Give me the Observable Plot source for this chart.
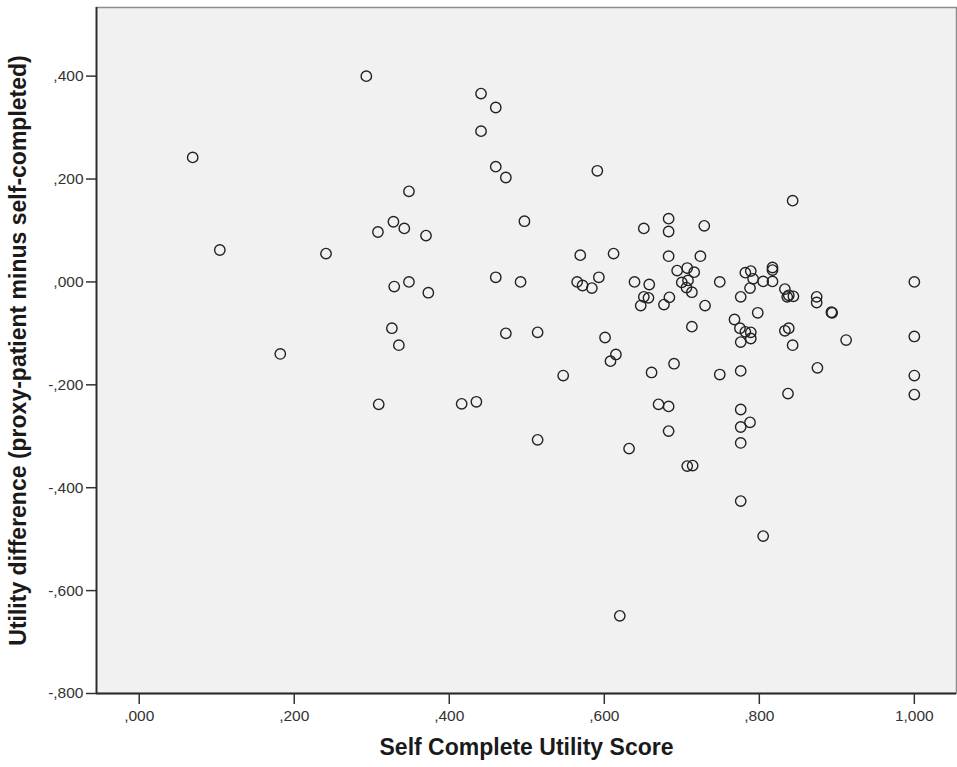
<!DOCTYPE html>
<html><head><meta charset="utf-8">
<script src="https://cdn.jsdelivr.net/npm/d3@7"></script>
<script src="https://cdn.jsdelivr.net/npm/@observablehq/plot@0.6"></script>
<style>
body{margin:0;background:#fff;}
</style></head><body><div id="chart"></div>
<script>
const selfScore = [
 0.069,0.104,0.241,0.182,0.293,0.348,0.328,0.342,0.308,0.370,
 0.348,0.329,0.373,0.326,0.335,0.309,0.416,0.435,0.441,0.460,
 0.441,0.460,0.473,0.497,0.460,0.492,0.473,0.514,0.591,0.843,
 0.683,0.683,0.651,0.729,0.569,0.612,0.683,0.724,0.565,0.572,
 0.584,0.593,0.639,0.658,0.651,0.657,0.647,0.677,0.684,0.694,
 0.707,0.716,0.700,0.708,0.706,0.713,0.730,0.713,0.749,0.782,
 0.789,0.792,0.805,0.817,0.817,0.817,0.788,0.776,0.798,0.833,
 0.838,0.844,0.836,0.874,0.874,0.893,0.894,1.000,0.768,0.775,
 0.782,0.789,0.789,0.776,0.833,0.838,0.843,0.912,1.000,0.601,
 0.615,0.608,0.690,0.547,0.661,0.749,0.776,0.875,1.000,0.837,
 1.000,0.670,0.683,0.776,0.776,0.788,0.683,0.514,0.632,0.776,
 0.707,0.714,0.776,0.805,0.620
];
const utilityDiff = [
 0.242,0.062,0.055,-0.140,0.400,0.176,0.117,0.104,0.097,0.090,
 0.000,-0.009,-0.021,-0.090,-0.123,-0.238,-0.237,-0.233,0.366,0.339,
 0.293,0.224,0.203,0.118,0.009,0.000,-0.100,-0.098,0.216,0.158,
 0.123,0.098,0.104,0.109,0.052,0.055,0.050,0.050,0.000,-0.007,
 -0.012,0.009,0.000,-0.005,-0.029,-0.031,-0.046,-0.044,-0.030,0.022,
 0.027,0.019,-0.001,0.003,-0.011,-0.020,-0.046,-0.087,0.000,0.018,
 0.021,0.006,0.001,0.001,0.028,0.023,-0.012,-0.029,-0.060,-0.014,
 -0.026,-0.028,-0.029,-0.029,-0.040,-0.059,-0.060,0.000,-0.073,-0.090,
 -0.097,-0.098,-0.110,-0.117,-0.095,-0.090,-0.123,-0.113,-0.106,-0.108,
 -0.141,-0.154,-0.159,-0.182,-0.176,-0.180,-0.173,-0.167,-0.182,-0.217,
 -0.219,-0.238,-0.242,-0.248,-0.282,-0.273,-0.290,-0.307,-0.324,-0.313,
 -0.358,-0.357,-0.426,-0.494,-0.649
];
const xTicks = [0, 0.2, 0.4, 0.6, 0.8, 1.0];
const yTicks = [-0.8, -0.6, -0.4, -0.2, 0, 0.2, 0.4];
const xTitle = "Self Complete Utility Score";
const yTitle = "Utility difference (proxy-patient minus self-completed)";

const xDomain = [-0.0551, 1.0544];
const yDomain = [-0.8, 0.5334];
const fmt = v => d3.format(".3f")(v).replace(/[\u2212]/g, "-").replace(/^(-?)0\./, "$1.").replace(".", ",");

const data = selfScore.map((x, i) => ({x, y: utilityDiff[i]}));

const chart = Plot.plot({
  width: 957, height: 767,
  marginLeft: 96, marginRight: 1, marginTop: 7, marginBottom: 74,
  style: {fontFamily: "'Liberation Sans', Arial, sans-serif", background: "#fff"},
  x: {domain: xDomain},
  y: {domain: yDomain},
  marks: [
    Plot.frame({fill: "#f0f1f0", stroke: "#8c8c8c", strokeWidth: 1.5}),
    Plot.ruleX([xDomain[0]], {stroke: "#2b2b2b", strokeWidth: 1.8}),
    Plot.ruleY([yDomain[0]], {stroke: "#2b2b2b", strokeWidth: 1.8}),
    Plot.axisX({ticks: xTicks, tickFormat: fmt, tickSize: 11, tickPadding: 5, fontSize: 15.5, color: "#333", strokeWidth: 1.5, label: null}),
    Plot.axisY({ticks: yTicks, tickFormat: fmt, tickSize: 10, tickPadding: 3, fontSize: 15.5, color: "#333", strokeWidth: 1.5, label: null}),
    Plot.dot(data, {x: "x", y: "y", r: 5.2, stroke: "#222", strokeWidth: 1.4, fill: "none"}),
    Plot.text([xTitle], {frameAnchor: "bottom", dy: 61, text: d => d, fontSize: 23, fontWeight: "bold", fill: "#1a1a1a"}),
    Plot.text([yTitle], {frameAnchor: "left", textAnchor: "middle", rotate: -90, dx: -78, text: d => d, fontSize: 23, fontWeight: "bold", fill: "#1a1a1a"})
  ]
});
document.getElementById("chart").appendChild(chart);
</script>
</body></html>
